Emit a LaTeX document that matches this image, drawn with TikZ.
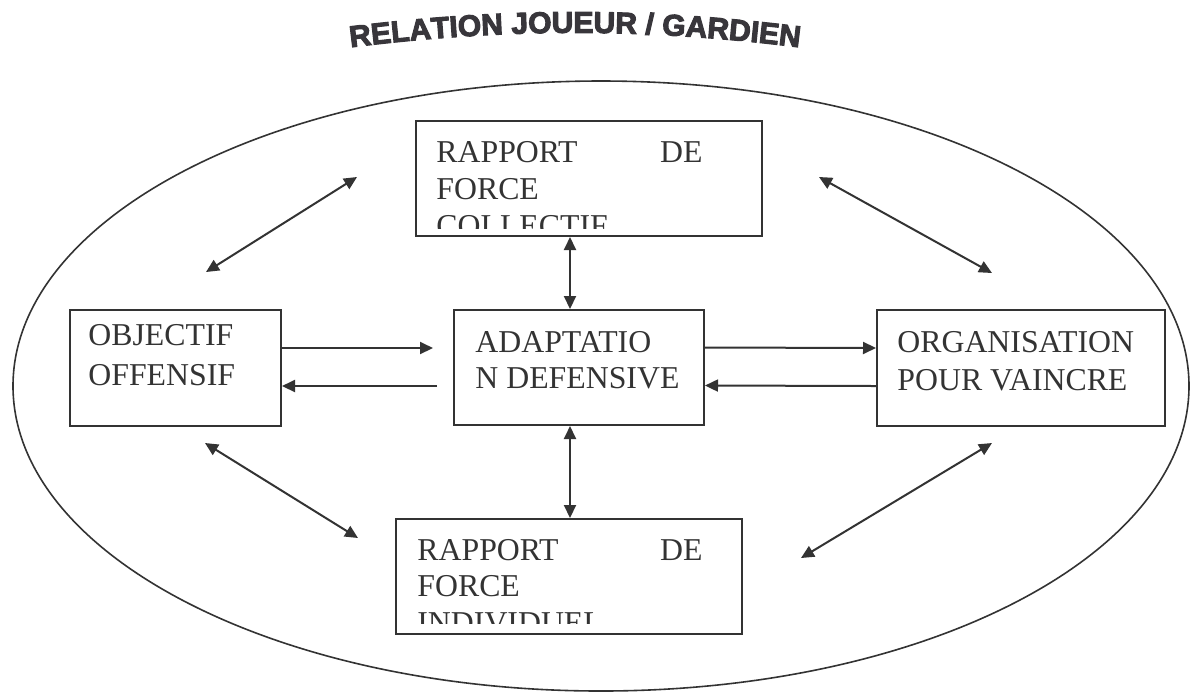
\documentclass[tikz,border=0pt]{standalone}
\usepackage{fontspec}
\setmainfont{Liberation Serif}
\newfontfamily\titlefont{Liberation Sans}[FakeBold=3.5, BoldFeatures={FakeBold=3.5}]
\usetikzlibrary{arrows.meta,decorations.text}
\definecolor{ink}{HTML}{333333}
\definecolor{titlecol}{HTML}{38363B}
\tikzset{
  box/.style={draw=ink, line width=1pt, inner sep=0pt},
  txt/.style={inner sep=0pt, text=ink, font=\fontsize{15.9}{18}\selectfont},
  arr/.style={draw=ink, line width=1pt, -{Triangle[length=6.5pt,width=6pt]}},
  darr/.style={draw=ink, line width=1pt, {Triangle[length=6.5pt,width=6pt]}-{Triangle[length=6.5pt,width=6pt]}},
}
\begin{document}
\begin{tikzpicture}[x=0.5pt,y=-0.5pt]
\useasboundingbox (0,0) rectangle (1194,693);
% title
\path[decorate, decoration={text along path, text align=center, text color=titlecol,
  text={|\fontsize{15}{18}\titlefont\bfseries|RELATION JOUEUR / GARDIEN}}]
  (330,50) .. controls (500,27) and (650,27) .. (820,50);
% ellipse
\coordinate (ell) at (601,386);
\draw[ink, line width=0.8pt] (ell) ellipse [x radius=294pt, y radius=152.5pt];
% boxes
\node[box, minimum width=173pt, minimum height=57.5pt] (tb) at (589,178.5) {};
\node[box, minimum width=173pt, minimum height=57.5pt] (bb) at (569,576.5) {};
\node[box, minimum width=105.5pt, minimum height=58pt] (lb) at (175.5,368) {};
\node[box, minimum width=125pt, minimum height=57.5pt] (mb) at (579,367.5) {};
\node[box, minimum width=144pt, minimum height=58pt] (rb) at (1021,368) {};
% texts
\node[txt, anchor=base west] (t1) at (436,162) {RAPPORT};
\node[txt, anchor=base east] (t2) at (703,162) {DE};
\node[txt, anchor=base west] (t3) at (436,199) {FORCE};
\begin{scope}
\clip (416,121) rectangle (762,228);
\node[txt, anchor=base west] (t4) at (436,236) {COLLECTIF};
\end{scope}
\node[txt, anchor=base west] (b1) at (417,560) {RAPPORT};
\node[txt, anchor=base east] (b2) at (703,560) {DE};
\node[txt, anchor=base west] (b3) at (417,596) {FORCE};
\begin{scope}
\clip (396,519) rectangle (742,623);
\node[txt, anchor=base west] (b4) at (417,633) {INDIVIDUEL};
\end{scope}
\node[txt, anchor=base west] (l1) at (88,345) {OBJECTIF};
\node[txt, anchor=base west] (l2) at (88,385) {OFFENSIF};
\node[txt, anchor=base west] (m1) at (475,352) {ADAPTATIO};
\node[txt, anchor=base west] (m2) at (475,388) {N DEFENSIVE};
\node[txt, anchor=base west] (r1) at (897,352) {ORGANISATION};
\node[txt, anchor=base west] (r2) at (897,390) {POUR VAINCRE};
% free ends
\coordinate (la1) at (433,348);
\coordinate (la2) at (437,386);
\coordinate (d1a) at (206,272); \coordinate (d1b) at (357,177);
\coordinate (d2a) at (819,177); \coordinate (d2b) at (992,273);
\coordinate (d3a) at (205,443); \coordinate (d3b) at (358,538);
\coordinate (d4a) at (992,443); \coordinate (d4b) at (801,558);
% connectors
\draw[arr] ([yshift=10pt]lb.east) -- (la1);
\draw[arr] (la2) -- ([yshift=-9pt]lb.east);
\draw[arr] ([yshift=10pt]mb.east) -- ([yshift=10pt]rb.west);
\draw[arr] ([yshift=-9pt]rb.west) -- ([yshift=-9pt]mb.east);
\draw[darr] ([xshift=-9.5pt]tb.south) -- ([xshift=-4.5pt]mb.north);
\draw[darr] ([xshift=-4.5pt]mb.south) -- ([xshift=0.5pt]bb.north);
\draw[darr] (d1a) -- (d1b);
\draw[darr] (d2a) -- (d2b);
\draw[darr] (d3a) -- (d3b);
\draw[darr] (d4a) -- (d4b);
\end{tikzpicture}
\end{document}
